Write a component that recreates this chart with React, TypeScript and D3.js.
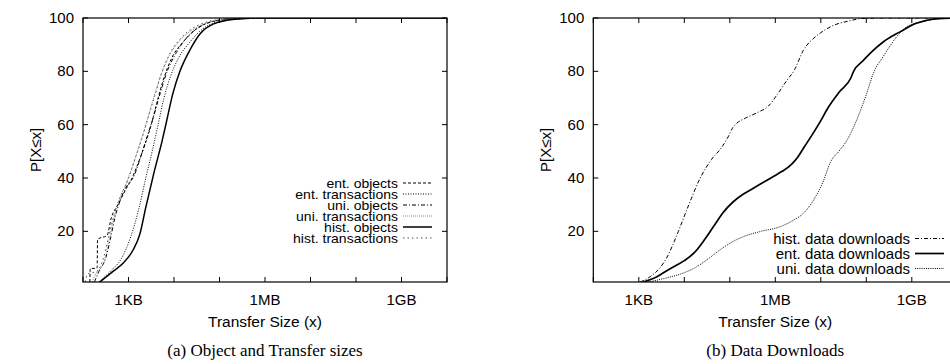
import React from 'react';
import * as d3 from 'd3';

// x values are log10(bytes), y values are percent
const entObjects = [[2.15, 1], [2.16, 6], [2.31, 6.2], [2.32, 17], [2.53, 18.5], [2.62, 25], [2.77, 30], [2.95, 36], [3.05, 39], [3.2, 45], [3.35, 52], [3.5, 60], [3.62, 68], [3.75, 76], [3.95, 85], [4.2, 91], [4.5, 96], [4.9, 98.8], [5.5, 99.8], [6.5, 100], [10, 100]];
const entTransactions = [[2.35, 1], [2.6, 5], [2.85, 10], [3.05, 18], [3.22, 28], [3.38, 40], [3.52, 50], [3.65, 60], [3.78, 70], [3.92, 78], [4.1, 85], [4.35, 91], [4.6, 95.5], [4.95, 98.5], [5.5, 99.7], [6.2, 100], [10, 100]];
const uniObjects = [[2.25, 1], [2.35, 5], [2.5, 10], [2.6, 17], [2.7, 25], [2.85, 33], [3.0, 38], [3.1, 40], [3.25, 47], [3.4, 55], [3.55, 63], [3.7, 72], [3.85, 80], [4.05, 87], [4.3, 93], [4.6, 97], [5.0, 99.3], [5.6, 100], [10, 100]];
const uniTransactions = [[2.2, 1], [2.28, 4], [2.45, 8], [2.55, 15], [2.68, 25], [2.8, 32], [2.95, 38], [3.1, 45], [3.25, 53], [3.4, 61], [3.55, 70], [3.7, 78], [3.9, 86], [4.15, 92], [4.45, 96], [4.9, 99], [5.6, 100], [10, 100]];
const histObjects = [[2.37, 1], [2.66, 5], [2.88, 8], [3.1, 13], [3.25, 19], [3.38, 29], [3.56, 42], [3.74, 54], [3.82, 60], [3.98, 72], [4.13, 80], [4.35, 88], [4.57, 94], [4.86, 97.7], [5.34, 99.5], [5.9, 100], [10, 100]];
const histTransactions = [[2.05, 1], [2.1, 4], [2.3, 5], [2.45, 10], [2.55, 17], [2.68, 26], [2.82, 33], [2.98, 39], [3.12, 46], [3.28, 54], [3.42, 62], [3.58, 71], [3.72, 79], [3.92, 87], [4.18, 93], [4.5, 97], [4.95, 99.3], [5.6, 100], [10, 100]];

const histDownloads = [[3.03, 1], [3.25, 3], [3.45, 6], [3.61, 10], [3.75, 15], [3.87, 20], [4.1, 30], [4.35, 40], [4.6, 47], [4.8, 51], [4.95, 55], [5.07, 59], [5.15, 60.5], [5.35, 62.5], [5.6, 64.5], [5.85, 67], [6.05, 71.5], [6.25, 76.5], [6.42, 80.5], [6.62, 88], [6.85, 92.5], [7.0, 94.5], [7.3, 97.4], [7.6, 98.8], [7.9, 99.8], [8.5, 100], [10, 100]];
const entDownloads = [[3.1, 1], [3.4, 3], [3.69, 6], [4.0, 9], [4.22, 12], [4.45, 17], [4.65, 22], [4.85, 27], [5.07, 31], [5.3, 34], [5.5, 36], [5.75, 38.5], [5.95, 40.5], [6.15, 42.5], [6.35, 45], [6.5, 48], [6.65, 52], [6.84, 57], [7.0, 61.5], [7.13, 65.5], [7.42, 72.5], [7.66, 77.5], [7.72, 80], [7.93, 84], [8.1, 87], [8.37, 91], [8.74, 94.8], [9.1, 98], [9.6, 99.8], [10, 100]];
const uniDownloads = [[3.21, 1], [3.6, 2.5], [4.0, 4.5], [4.27, 6.7], [4.55, 10], [4.78, 13], [5.05, 16], [5.3, 18], [5.66, 19.9], [6.1, 21.7], [6.4, 24.2], [6.62, 26.8], [6.84, 31.7], [7.06, 39], [7.2, 45.5], [7.42, 50.5], [7.57, 54], [7.79, 61.8], [8.01, 71.8], [8.16, 79.5], [8.37, 85.5], [8.52, 89.5], [8.66, 92.8], [8.89, 96.7], [9.33, 99], [9.62, 99.8], [10, 100]];

const xTickValues = [1e2, 1e3, 1e4, 1e5, 1e6, 1e7, 1e8, 1e9, 1e10];
const xLabelValues = [1e3, 1e6, 1e9];
const xLabelTexts = ['1KB', '1MB', '1GB'];
const yTickValues = [20, 40, 60, 80, 100];

const leftSeries = [
  { name: 'ent. objects', data: entObjects, dash: '3,2', color: '#000', width: 1 },
  { name: 'ent. transactions', data: entTransactions, dash: '1,1.5', color: '#000', width: 1 },
  { name: 'uni. objects', data: uniObjects, dash: '4,2,1,2', color: '#000', width: 1 },
  { name: 'uni. transactions', data: uniTransactions, dash: '1,1', color: '#888', width: 1 },
  { name: 'hist. objects', data: histObjects, dash: null, color: '#000', width: 1.5 },
  { name: 'hist. transactions', data: histTransactions, dash: '1.5,3', color: '#555', width: 1 },
];
const rightSeries = [
  { name: 'hist. data downloads', data: histDownloads, dash: '4,2,1,2', color: '#000', width: 1 },
  { name: 'ent. data downloads', data: entDownloads, dash: null, color: '#000', width: 1.7 },
  { name: 'uni. data downloads', data: uniDownloads, dash: '1,1.2', color: '#000', width: 1 },
];

const SANS = 'Liberation Sans, Arial, sans-serif';
const TOP = 18;
const BOTTOM = 282;
const PW = 364;

function Panel({ id, x0, series, caption, legendX, legendY, legendStep, legendSize, legendStretch }) {
  const x = d3.scaleLog().domain([1e2, 1e10]).range([x0, x0 + PW]);
  const y = d3.scaleLinear().domain([1, 100]).range([BOTTOM, TOP]);
  const line = d3.line()
    .x(d => x(Math.pow(10, d[0])))
    .y(d => y(d[1]))
    .curve(d3.curveMonotoneX);
  const cx = x0 + PW / 2;
  const tick = 5;

  return (
    <g>
      <defs>
        <clipPath id={id}>
          <rect x={x0} y={TOP} width={PW} height={BOTTOM - TOP} />
        </clipPath>
      </defs>
      <g clipPath={`url(#${id})`}>
        {series.map(s => (
          <path key={s.name} d={line(s.data)} fill="none" stroke={s.color}
            strokeWidth={s.width} strokeDasharray={s.dash || undefined} />
        ))}
      </g>
      {/* ticks, gnuplot style: inward and mirrored */}
      {xTickValues.map(v => (
        <g key={v} stroke="#000" strokeWidth={1}>
          <line x1={x(v)} x2={x(v)} y1={BOTTOM} y2={BOTTOM - tick} />
          <line x1={x(v)} x2={x(v)} y1={TOP} y2={TOP + tick} />
        </g>
      ))}
      {yTickValues.map(v => (
        <g key={v} stroke="#000" strokeWidth={1}>
          <line x1={x0} x2={x0 + tick} y1={y(v)} y2={y(v)} />
          <line x1={x0 + PW} x2={x0 + PW - tick} y1={y(v)} y2={y(v)} />
        </g>
      ))}
      <rect x={x0} y={TOP} width={PW} height={BOTTOM - TOP} fill="none" stroke="#000" strokeWidth={1.2} />
      {yTickValues.map(v => (
        <text key={v} x={x0 - 9} y={y(v) + 5} textAnchor="end" fontFamily={SANS} fontSize={15}>{v}</text>
      ))}
      {xLabelValues.map((v, i) => (
        <text key={v} x={x(v)} y={305} textAnchor="middle" fontFamily={SANS} fontSize={15}>{xLabelTexts[i]}</text>
      ))}
      <text x={cx} y={327} textAnchor="middle" fontFamily={SANS} fontSize={15.5}>Transfer Size (x)</text>
      <text transform={`translate(${x0 - 42},150) rotate(-90)`} textAnchor="middle" fontFamily={SANS} fontSize={15}>P[X≤x]</text>
      <text x={cx} y={356} textAnchor="middle" fontFamily="Liberation Serif, serif" fontSize={17}>{caption}</text>
      {series.map((s, i) => {
        const ly = legendY + i * legendStep;
        return (
          <g key={s.name}>
            <text transform={`translate(${legendX},${ly + legendSize * 0.36}) scale(${legendStretch},1)`}
              textAnchor="end" fontFamily={SANS} fontSize={legendSize}>{s.name}</text>
            <line x1={legendX + 5} x2={legendX + 34} y1={ly} y2={ly}
              stroke={s.color} strokeWidth={s.width} strokeDasharray={s.dash || undefined} />
          </g>
        );
      })}
    </g>
  );
}

export default function App() {
  return (
    <svg width={950} height={364} style={{ position: 'absolute', left: 0, top: 0, background: '#fff' }}>
      <rect width={950} height={364} fill="#fff" />
      <Panel id="clipA" x0={83} series={leftSeries} caption="(a) Object and Transfer sizes"
        legendX={398} legendY={183} legendStep={11} legendSize={12.5} legendStretch={1.12} />
      <Panel id="clipB" x0={593.3} series={rightSeries} caption="(b) Data Downloads"
        legendX={910} legendY={238.5} legendStep={15} legendSize={15} legendStretch={1} />
    </svg>
  );
}
